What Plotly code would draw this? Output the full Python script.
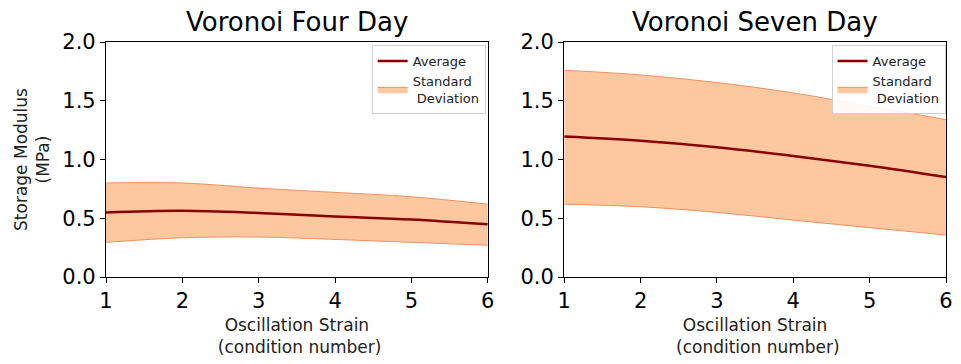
import plotly.graph_objects as go

strain = [1, 2, 3, 4, 5, 6]
four_mean = [0.55, 0.564, 0.545, 0.515, 0.49, 0.448]
four_upper = [0.80, 0.80, 0.756, 0.72, 0.683, 0.62]
four_lower = [0.295, 0.334, 0.34, 0.32, 0.295, 0.27]
seven_mean = [1.195, 1.16, 1.105, 1.03, 0.946, 0.85]
seven_upper = [1.76, 1.72, 1.655, 1.567, 1.453, 1.34]
seven_lower = [0.62, 0.598, 0.55, 0.484, 0.42, 0.357]
titles = ["Voronoi Four Day", "Voronoi Seven Day"]
tick_vals = [0.0, 0.5, 1.0, 1.5, 2.0]

FILL = "#FDC89F"
EDGE = "#F0905F"
MEAN = "#8B0000"
FONT = "DejaVu Sans"

fig = go.Figure()
panels = [(four_mean, four_upper, four_lower, "x", "y", "legend"),
          (seven_mean, seven_upper, seven_lower, "x2", "y2", "legend2")]
for mean, up, lo, xa, ya, lg in panels:
    fig.add_trace(go.Scatter(x=strain, y=lo, mode="lines", line=dict(color=EDGE, width=1, shape="spline"),
                             showlegend=False, xaxis=xa, yaxis=ya, hoverinfo="skip"))
    fig.add_trace(go.Scatter(x=strain, y=up, mode="lines", fill="tonexty", fillcolor=FILL,
                             line=dict(color=EDGE, width=1, shape="spline"),
                             name="Standard<br> Deviation", legend=lg, legendrank=2,
                             xaxis=xa, yaxis=ya))
    fig.add_trace(go.Scatter(x=strain, y=mean, mode="lines", line=dict(color=MEAN, width=2.5, shape="spline"),
                             name="Average", legend=lg, legendrank=1, xaxis=xa, yaxis=ya))

axis_common = dict(showgrid=False, zeroline=False, showline=True, linecolor="black", linewidth=1.2,
                   mirror=True, ticks="outside", ticklen=5, tickwidth=1.2, tickcolor="black",
                   tickfont=dict(size=21, color="black", family=FONT))
xcommon = dict(axis_common, range=[1, 6], tickvals=strain,
               title=dict(text="Oscillation Strain<br> (condition number)", font=dict(size=17, family=FONT, color="#222"), standoff=6))
ycommon = dict(axis_common, range=[0, 2.0], tickvals=tick_vals, ticktext=[f"{v:.1f}" for v in tick_vals])

legend_common = dict(bgcolor="rgba(255,255,255,0.9)", bordercolor="#d0d0d0", borderwidth=1,
                     font=dict(size=13, family=FONT, color="#222"), xanchor="right", yanchor="top",
                     traceorder="normal", tracegroupgap=0, itemwidth=30)

fig.update_layout(
    width=961, height=364,
    margin=dict(l=106, r=8, t=42, b=87),
    paper_bgcolor="white", plot_bgcolor="white",
    font=dict(family=FONT),
    xaxis=dict(xcommon, domain=[0, 0.4545], anchor="y"),
    yaxis=dict(ycommon, domain=[0, 1], anchor="x",
               title=dict(text="Storage Modulus<br>(MPa)", font=dict(size=17, family=FONT, color="#222"), standoff=8)),
    xaxis2=dict(xcommon, domain=[0.5455, 1], anchor="y2"),
    yaxis2=dict(ycommon, domain=[0, 1], anchor="x2"),
    legend=dict(legend_common, x=0.452, y=0.987),
    legend2=dict(legend_common, x=0.9995, y=0.987),
    annotations=[
        dict(text=titles[0], x=0.2273, y=1.0, xref="paper", yref="paper", xanchor="center", yanchor="bottom",
             yshift=3, showarrow=False, font=dict(size=26, family=FONT, color="black")),
        dict(text=titles[1], x=0.7727, y=1.0, xref="paper", yref="paper", xanchor="center", yanchor="bottom",
             yshift=3, showarrow=False, font=dict(size=26, family=FONT, color="black")),
    ],
)

fig.write_html("out.html")
